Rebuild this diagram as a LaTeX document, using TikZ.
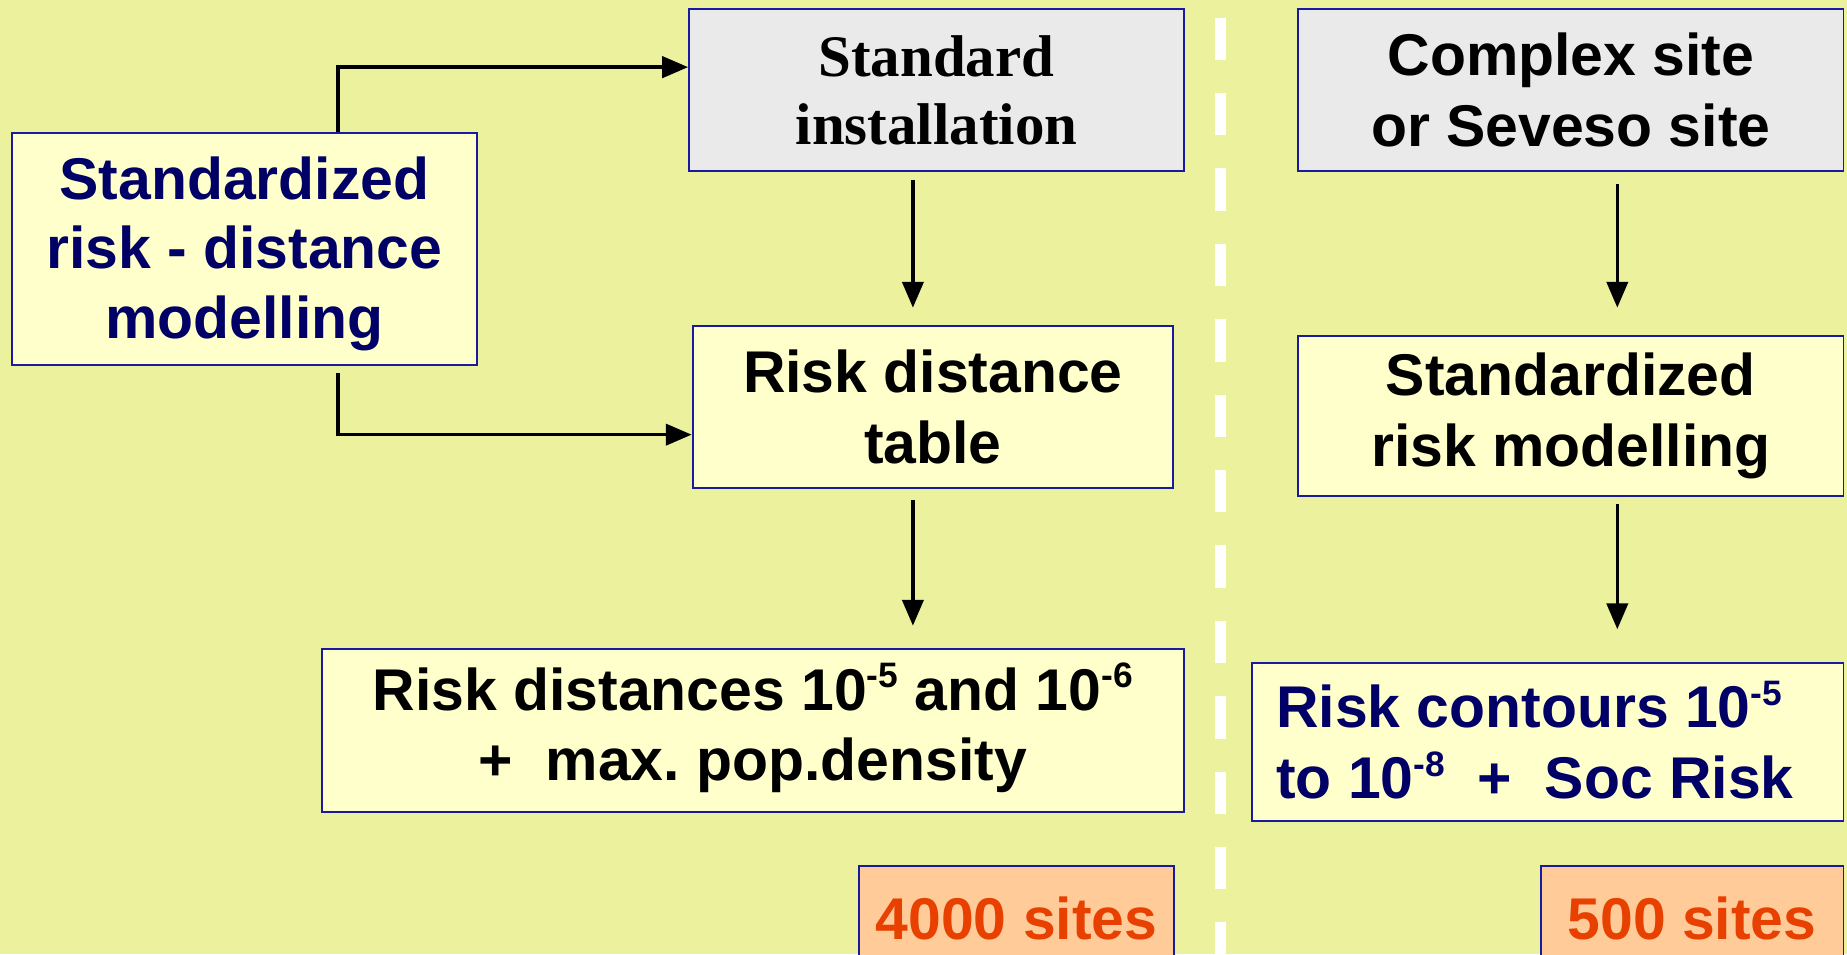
\documentclass[tikz,border=0pt]{standalone}
\usepackage{fontspec}
\setmainfont{Liberation Sans}
\newfontfamily\serifbold{Liberation Serif}
\usetikzlibrary{arrows.meta}
\definecolor{bg}{HTML}{ECF19D}
\definecolor{boxy}{HTML}{FFFFCC}
\definecolor{boxg}{HTML}{EAEAEA}
\definecolor{boxo}{HTML}{FFCC99}
\definecolor{edge}{HTML}{1A1AA0}
\definecolor{navy}{HTML}{000066}
\definecolor{orangetxt}{HTML}{E84000}
\newcommand{\sups}[1]{\smash{\raisebox{19pt}{\fontsize{30}{30}\selectfont #1}}}
\tikzset{
  box/.style={draw=edge, line width=1.6pt, inner sep=0pt, align=center,
    font=\fontsize{50}{60}\selectfont\bfseries},
  yel/.style={box, fill=boxy},
  gry/.style={box, fill=boxg},
  org/.style={box, fill=boxo, text=orangetxt},
  arr/.style={line width=3pt, -{Triangle[length=22pt,width=18pt]}},
}
\begin{document}
\frenchspacing
\begin{tikzpicture}[x=1pt,y=-1pt]
\fill[bg] (0,0) rectangle (1568,810);
\useasboundingbox (0,0) rectangle (1568,810);
% dashed divider
\draw[white, line width=9.4pt, dash pattern=on 36pt off 28pt, dash phase=-15pt] (1036,0) -- (1036,810);
% left column
\node[yel, text=navy, minimum width=395pt, minimum height=197pt, font=\fontsize{50}{59}\selectfont\bfseries] (A) at (207.5,211.5)
  {\rule{0pt}{44pt}Standardized\\risk - distance\\modelling};
\node[gry, minimum width=420pt, minimum height=137pt, font=\fontsize{50}{58}\selectfont\serifbold\bfseries] (B) at (795,76.5)
  {Standard\\installation};
\node[yel, minimum width=408pt, minimum height=137pt] (C) at (792,345.5)
  {Risk distance\\table};
\node[yel, minimum width=732pt, minimum height=138pt] (D) at (639,620)
  {Risk distances 10\sups{-5} and 10\sups{-6}\\+\ \ max. pop.density};
\node[org, minimum width=268pt, minimum height=90pt] (E) at (863,780)
  {4000 sites};
% right column
\node[gry, minimum width=463pt, minimum height=137pt] (F) at (1333.5,76.5)
  {Complex site\\or Seveso site};
\node[yel, minimum width=463pt, minimum height=136pt] (G) at (1333.5,353)
  {Standardized\\risk modelling};
\node[yel, text=navy, minimum width=502pt, minimum height=134pt, align=left] (H) at (1314,630)
  {Risk contours 10\sups{-5}\\to 10\sups{-8}\ \ +\ \ Soc Risk\hspace*{22pt}};
\node[org, minimum width=257pt, minimum height=90pt] (I) at (1436.5,780)
  {500 sites};
% connectors
\coordinate (a1) at (287,57);
\coordinate (a2) at (287,369);
\draw[arr] (A.north -| a1) -- (a1) -- (B.west |- a1);
\draw[arr] ([yshift=-6pt]A.south -| a2) -- (a2) -- (C.west |- a2);
\draw[arr] ([yshift=-7pt]B.south -| 775,0) -- ([yshift=15pt]C.north -| 775,0);
\draw[arr] ([yshift=-10pt]C.south -| 775,0) -- ([yshift=19pt]D.north -| 775,0);
\draw[arr] ([yshift=-10pt]F.south -| 1373,0) -- ([yshift=23pt]G.north -| 1373,0);
\draw[arr] ([yshift=-6pt]G.south -| 1373,0) -- ([yshift=28pt]H.north -| 1373,0);
\end{tikzpicture}
\end{document}
